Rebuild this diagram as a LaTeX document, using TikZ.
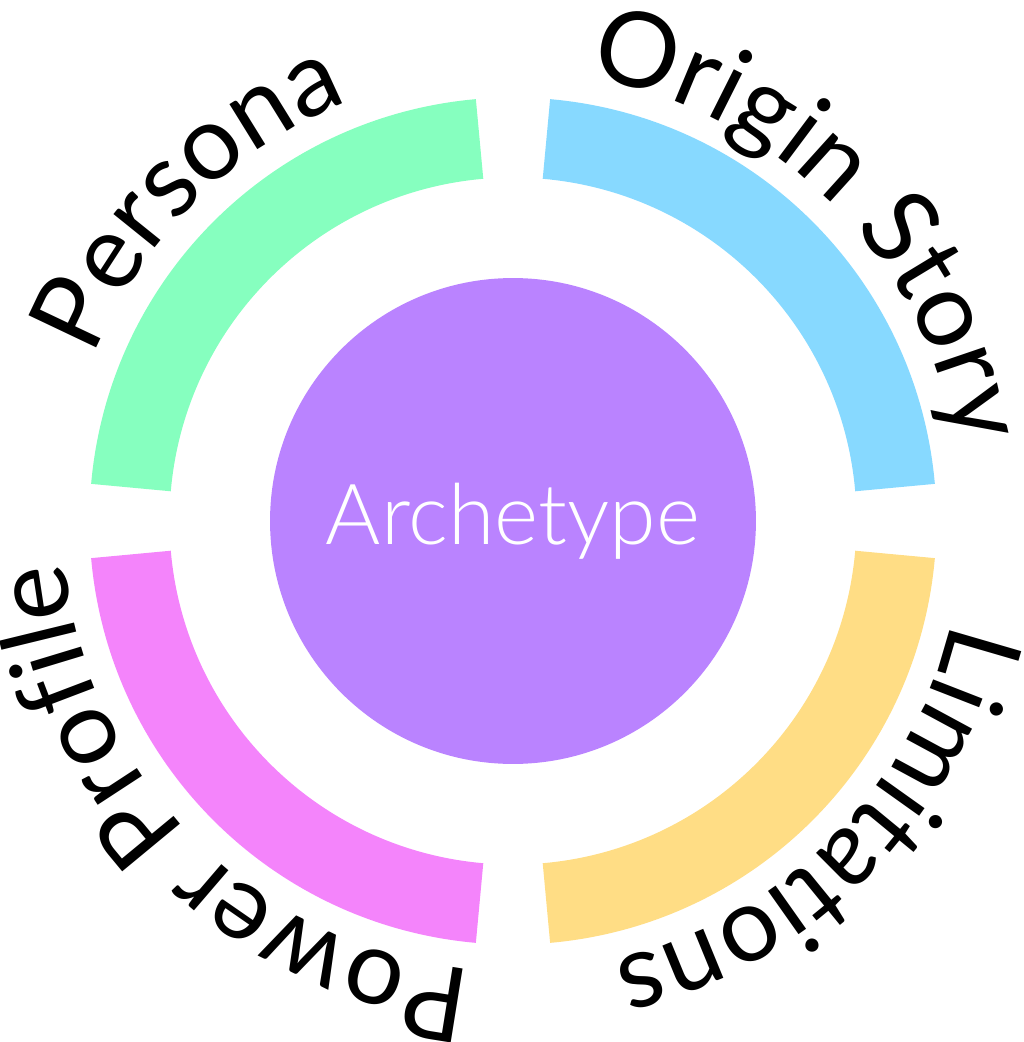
\documentclass[tikz,border=0pt]{standalone}
\usepackage{fontspec}
\usetikzlibrary{decorations.text}
\newfontfamily\ringfont{Lato}
\newfontfamily\corefont{Lato Light}
\definecolor{personagreen}{RGB}{134,255,191}
\definecolor{originblue}{RGB}{135,217,255}
\definecolor{limityellow}{RGB}{255,221,133}
\definecolor{powerpink}{RGB}{244,132,251}
\definecolor{corepurple}{RGB}{186,131,255}
\begin{document}
\begin{tikzpicture}[x=0.02cm, y=0.02cm]

\tikzstyle{band} = [line width=1.6cm]
\tikzstyle{ringlabel} = [decorate, decoration={text along path, text align=center, text format delimiters={|}{|}}]

\useasboundingbox (-513,-521) rectangle (511,521);

\node (core) at (0,0) [circle, fill=corepurple, minimum size=9.72cm, inner sep=0pt] {};
\node (coretext) at (0,0) {\corefont\fontsize{48}{52}\selectfont\color{white}Archetype};

\draw[band, personagreen] (95:383.5) arc (95:175:383.5);
\draw[band, originblue] (5:383.5) arc (5:85:383.5);
\draw[band, limityellow] (-85:383.5) arc (-85:-5:383.5);
\draw[band, powerpink] (185:383.5) arc (185:265:383.5);

\path[ringlabel, decoration={text={|\ringfont\fontsize{59.5}{60}\selectfont|Persona}}] (175:450) arc (175:95:450);
\path[ringlabel, decoration={text={|\ringfont\fontsize{59.5}{60}\selectfont|Origin Story}}] (85:450) arc (85:5:450);
\path[ringlabel, decoration={text={|\ringfont\fontsize{59.5}{60}\selectfont|Limitations}}] (-5:450) arc (-5:-85:450);
\path[ringlabel, decoration={text={|\ringfont\fontsize{59.5}{60}\selectfont|Power Profile}}] (-95:450) arc (-95:-175:450);
\end{tikzpicture}
\end{document}
